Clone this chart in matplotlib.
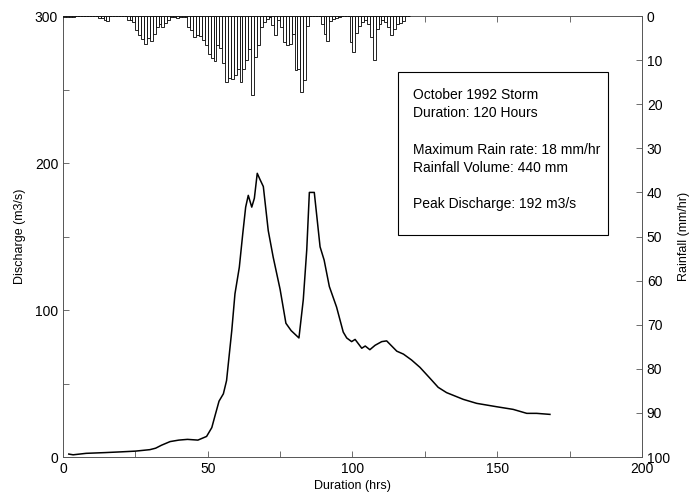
#!/usr/bin/env python
# -*- coding: utf-8 -*-

"""
Storm hydrograph: discharge curve with hourly rainfall hanging from the top.
"""

import matplotlib
matplotlib.use("Agg")
import matplotlib.pyplot as plt
import numpy as np

# Hourly rainfall (mm/hr), hour 0 .. 119.
rain_hour = np.arange(120)
rain = [
    0.3, 0.3, 0.3, 0.2, 0, 0, 0, 0, 0, 0,
    0, 0, 0.4, 0.5, 0.8, 1.1, 0, 0, 0, 0,
    0, 0, 0.8, 1.0, 1.3, 3.2, 4.3, 5.2, 6.4, 4.9,
    5.6, 4.0, 2.6, 1.9, 2.5, 1.6, 0.9, 0.3, 0.3, 0.4,
    0.3, 0.2, 0.2, 2.4, 3.2, 4.8, 4.2, 4.6, 5.4, 6.6,
    8.5, 9.6, 10.2, 6.6, 7.3, 10.7, 14.9, 14.1, 14.2, 13.4,
    11.9, 15.0, 12.1, 10.0, 7.4, 17.9, 9.2, 6.6, 2.4, 1.3,
    0.6, 0.2, 2.0, 4.3, 0.9, 2.6, 5.8, 6.6, 6.3, 4.0,
    12.2, 11.9, 17.3, 14.5, 2.2, 0, 0, 0, 0, 1.7,
    4.0, 5.7, 1.1, 0.6, 0.5, 0.2, 0, 0, 0, 5.9,
    8.1, 3.8, 2.2, 1.4, 0.9, 1.9, 4.8, 10.0, 2.9, 1.7,
    1.0, 1.3, 2.5, 4.4, 2.9, 1.8, 1.5, 1.1, 0, 0,
]

# Discharge hydrograph (m3/s).
q_hours = [
    2, 3.5, 8, 14.5, 20, 25, 30, 32, 34, 37, 40, 43, 46.6, 49.6, 51.4,
    52.5, 53.9, 55.4, 56.5, 58.3, 59.4, 60.9, 62.1, 63.1, 64, 65.2, 66.1,
    67.1, 68, 69.2, 70.9, 72.6, 75, 77, 78.8, 81.5, 83, 84.2, 85.1, 86.8,
    88.8, 90.2, 92, 94.5, 96.8, 98, 99.7, 100.9, 103.2, 104.4, 106, 107.8,
    110.1, 111.8, 115.3, 117.6, 120.4, 123.3, 126.8, 129.6, 132.5, 138.3,
    142.9, 149.8, 155.5, 160.2, 163.6, 168.2,
]
discharge = [
    2, 1.5, 2.5, 3, 3.5, 4, 5, 6, 8, 10.5, 11.5, 12, 11.5, 14, 20,
    28, 38, 43, 52, 86, 111, 129, 152, 170, 178, 170, 176,
    193, 189, 184, 154, 136, 114, 91, 86, 81, 107, 141, 180, 180,
    143, 134, 116, 102, 85, 81, 78.5, 80, 74, 75.5, 73, 76,
    78.5, 79, 72, 70, 66, 61, 53.5, 47.4, 43.8, 39.2,
    36.5, 34.2, 32.4, 29.7, 29.7, 29,
]

info_lines = [
    "October 1992 Storm",
    "Duration: 120 Hours",
    "",
    "Maximum Rain rate: 18 mm/hr",
    "Rainfall Volume: 440 mm",
    "",
    "Peak Discharge: 192 m3/s",
]

plt.rcParams["font.family"] = ["Liberation Sans", "DejaVu Sans"]

# Create the figure.
fig = plt.figure(figsize=(6.93, 4.93), dpi=100)
ax = fig.add_axes([0.0909, 0.073, 0.8355, 0.8945])
frame_color = "#555555"

# Discharge curve.
ax.plot(q_hours, discharge, color="black", linewidth=1.1)
ax.set_xlim(0, 200)
ax.set_ylim(0, 300)
ax.set_xticks([0, 50, 100, 150, 200])
ax.set_xticks(np.arange(0, 201, 25), minor=True)
ax.set_yticks([0, 100, 200, 300])
ax.set_yticks(np.arange(0, 301, 50), minor=True)
ax.tick_params(which="both", direction="in", top=True, right=True,
               length=4, width=0.6, color=frame_color, labelsize=10)
ax.set_xlabel("Duration (hrs)", fontsize=9, labelpad=3)
ax.set_ylabel("Discharge (m3/s)", fontsize=9, labelpad=6)
for spine in ax.spines.values():
    spine.set_color(frame_color)
    spine.set_linewidth(0.7)

# Rainfall bars hanging from the top.
ax2 = ax.twinx()
ax2.bar(rain_hour, rain, width=1.0, align="edge", color="white",
        edgecolor="black", linewidth=0.6)
ax2.set_ylim(100, 0)
ax2.set_yticks(np.arange(0, 101, 10))
ax2.tick_params(direction="in", length=4, width=0.6, color=frame_color,
                labelsize=10)
ax2.set_ylabel("Rainfall (mm/hr)", fontsize=9, labelpad=6)
for spine in ax2.spines.values():
    spine.set_visible(False)

# Storm summary box.
ax.text(121, 251, "\n".join(info_lines), fontsize=10, va="top", ha="left",
        linespacing=1.38, zorder=5)
ax.add_patch(plt.Rectangle((115.7, 151), 72.6, 111, fill=False,
                           edgecolor="black", linewidth=0.8, zorder=5))

fig.savefig("out.png", dpi=100)
